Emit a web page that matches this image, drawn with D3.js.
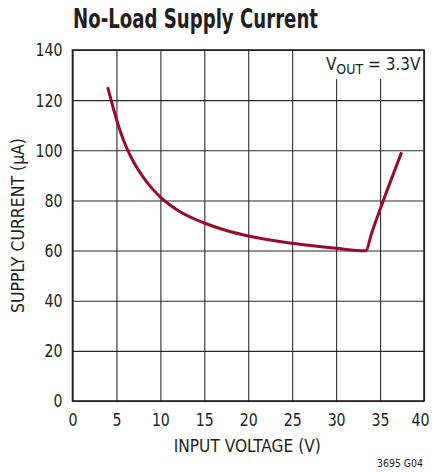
<!DOCTYPE html>
<html>
<head>
<meta charset="utf-8">
<script src="https://cdn.jsdelivr.net/npm/d3@7"></script>
<style>
  body { margin: 0; background: #fff; }
  text { font-family: "Liberation Sans Narrow", "Arial Narrow", "DejaVu Sans Condensed", sans-serif; fill: #231f20; }
</style>
</head>
<body>
<div id="chart"></div>
<script>
  // data
  var inputVoltage = [4, 4.5, 5, 5.5, 6, 7, 8, 9, 10, 12, 15, 17.5, 20, 25, 30, 33.4, 34, 35.4, 37.45];
  var supplyCurrent = [125.2, 118.6, 112.4, 107, 102.3, 95, 89.5, 85, 81.3, 76, 71, 68, 65.8, 62.9, 60.9, 59.9, 66.5, 80.2, 99.2];
  var xTicks = [0, 5, 10, 15, 20, 25, 30, 35, 40];
  var yTicks = [0, 20, 40, 60, 80, 100, 120, 140];

  var margin = {top: 50, right: 10, bottom: 71, left: 72.5};
  var width = 434 - margin.left - margin.right;
  var height = 472 - margin.top - margin.bottom;

  var root = d3.select('#chart')
    .append('svg')
    .attr('width', 434)
    .attr('height', 472);

  var svg = root.append('g')
    .attr('transform', 'translate(' + margin.left + ',' + margin.top + ')');

  var xScale = d3.scaleLinear().domain([0, 40]).range([0, width]);
  var yScale = d3.scaleLinear().domain([0, 140]).range([height, 0]);

  // grid lines
  svg.append('g')
    .attr('class', 'grid')
    .attr('transform', 'translate(0,' + height + ')')
    .call(d3.axisBottom(xScale).tickValues(xTicks).tickSize(-height).tickFormat(''))
    .call(function(g){ g.select('.domain').remove(); })
    .selectAll('line').attr('stroke', '#2b2b2b').attr('stroke-width', 1.1);

  svg.append('g')
    .attr('class', 'grid')
    .call(d3.axisLeft(yScale).tickValues(yTicks).tickSize(-width).tickFormat(''))
    .call(function(g){ g.select('.domain').remove(); })
    .selectAll('line').attr('stroke', '#2b2b2b').attr('stroke-width', 1.1);

  // white box behind the VOUT label
  svg.append('rect')
    .attr('x', xScale(28.9))
    .attr('y', 1)
    .attr('width', xScale(39.8) - xScale(28.9))
    .attr('height', 28)
    .attr('fill', '#fff');

  // frame
  svg.append('rect')
    .attr('width', width)
    .attr('height', height)
    .attr('fill', 'none')
    .attr('stroke', '#231f20')
    .attr('stroke-width', 1.6);

  // tick labels, squeezed to the narrow look of the original (about 9px per digit)
  function squeeze(sel){
    sel.attr('font-size', 18.5)
      .attr('fill', '#231f20')
      .attr('textLength', function(d){ return String(d).length * 9; })
      .attr('lengthAdjust', 'spacingAndGlyphs');
  }

  var xAxis = svg.append('g')
    .attr('transform', 'translate(0,' + height + ')')
    .call(d3.axisBottom(xScale).tickValues(xTicks).tickSize(0).tickPadding(12));
  xAxis.select('.domain').remove();
  xAxis.selectAll('text').call(squeeze);
  // last label sits a bit inside, like the original
  xAxis.selectAll('text').filter(function(d){ return d === 40; }).attr('dx', -4);

  var yAxis = svg.append('g')
    .call(d3.axisLeft(yScale).tickValues(yTicks).tickSize(0).tickPadding(10));
  yAxis.select('.domain').remove();
  yAxis.selectAll('text').call(squeeze);

  // the curve
  var points = inputVoltage.map(function(v, i){ return [v, supplyCurrent[i]]; });
  var line = d3.line()
    .x(function(d){ return xScale(d[0]); })
    .y(function(d){ return yScale(d[1]); })
    .curve(d3.curveMonotoneX);

  svg.append('path')
    .datum(points)
    .attr('d', line)
    .attr('fill', 'none')
    .attr('stroke', '#990a2c')
    .attr('stroke-width', 3)
    .attr('stroke-linejoin', 'round');

  // VOUT label
  var vout = svg.append('text')
    .attr('x', xScale(39.6))
    .attr('y', 19.5)
    .attr('text-anchor', 'end')
    .attr('font-size', 17);
  vout.append('tspan').text('V');
  vout.append('tspan').attr('dy', 4).attr('font-size', 14).text('OUT');
  vout.append('tspan').attr('dy', -4).text(' = 3.3V');

  // title
  root.append('text')
    .attr('x', 73)
    .attr('y', 28)
    .attr('font-size', 26)
    .attr('font-weight', 'bold')
    .attr('textLength', 245)
    .attr('lengthAdjust', 'spacingAndGlyphs')
    .text('No-Load Supply Current');

  // axis titles
  root.append('text')
    .attr('x', margin.left + width / 2 - 1)
    .attr('y', 452)
    .attr('text-anchor', 'middle')
    .attr('font-size', 18.5)
    .attr('textLength', 147)
    .attr('lengthAdjust', 'spacingAndGlyphs')
    .text('INPUT VOLTAGE (V)');

  root.append('text')
    .attr('transform', 'translate(24,' + (margin.top + height / 2) + ') rotate(-90)')
    .attr('text-anchor', 'middle')
    .attr('font-size', 18.5)
    .attr('textLength', 175)
    .attr('lengthAdjust', 'spacingAndGlyphs')
    .text('SUPPLY CURRENT (\u00b5A)');

  root.append('text')
    .attr('x', 423)
    .attr('y', 467)
    .attr('text-anchor', 'end')
    .attr('font-size', 11)
    .attr('textLength', 46)
    .attr('lengthAdjust', 'spacingAndGlyphs')
    .text('3695 G04');
</script>
</body>
</html>
